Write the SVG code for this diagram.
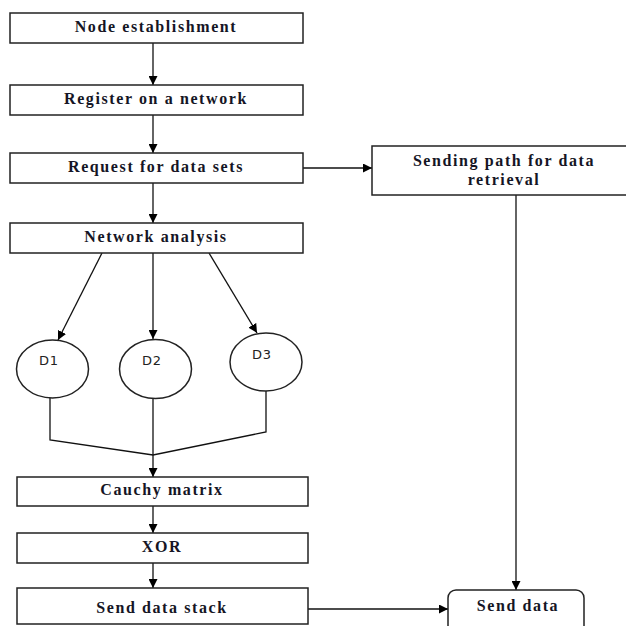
<svg xmlns="http://www.w3.org/2000/svg" width="626" height="626" viewBox="0 0 626 626">
<defs>
<marker id="ah" viewBox="0 0 10 10" refX="10" refY="5" markerWidth="9" markerHeight="9" markerUnits="userSpaceOnUse" orient="auto">
<path d="M0,0 L10,5 L0,10 z" fill="#000"/>
</marker>
<style>
.box{fill:#fff;stroke:#222;stroke-width:1.5}
.t{font-family:"Liberation Serif","Times New Roman",serif;font-weight:bold;font-size:16px;letter-spacing:1.6px;fill:#151525;text-anchor:middle}
.d{font-family:"DejaVu Sans",Verdana,sans-serif;font-size:13px;letter-spacing:0.8px;fill:#222;text-anchor:middle}
.c{fill:none;stroke:#111;stroke-width:1.3}
.a{marker-end:url(#ah)}
</style>
</defs>
<rect width="626" height="626" fill="#fff"/>
<g id="connectors">
<line class="c a" x1="153" y1="43" x2="153" y2="85"/>
<line class="c a" x1="153" y1="115" x2="153" y2="153"/>
<line class="c a" x1="153" y1="183" x2="153" y2="223"/>
<line class="c a" x1="303" y1="168" x2="372" y2="168"/>
<line class="c a" x1="102" y1="253" x2="58" y2="340"/>
<line class="c a" x1="153" y1="253" x2="153" y2="339"/>
<line class="c a" x1="209" y1="253" x2="257" y2="333"/>
<polyline class="c" points="50,398 50,440 153,455 266,432 266,391"/>
<line class="c a" x1="153" y1="398" x2="153" y2="477"/>
<line class="c a" x1="153" y1="506" x2="153" y2="533"/>
<line class="c a" x1="153" y1="563" x2="153" y2="588"/>
<line class="c a" x1="516" y1="195" x2="516" y2="590"/>
<line class="c a" x1="308" y1="609" x2="448" y2="609"/>
</g>
<g id="node-establishment">
<rect class="box" x="10" y="13" width="293" height="30"/>
<text class="t" x="156" y="32">Node establishment</text>
</g>
<g id="register">
<rect class="box" x="10" y="85" width="293" height="30"/>
<text class="t" x="156" y="104">Register on a network</text>
</g>
<g id="request">
<rect class="box" x="10" y="153" width="293" height="30"/>
<text class="t" x="156" y="172">Request for data sets</text>
</g>
<g id="network-analysis">
<rect class="box" x="10" y="223" width="293" height="30"/>
<text class="t" x="156" y="242">Network analysis</text>
</g>
<g id="sending-path">
<rect class="box" x="372" y="146" width="270" height="49"/>
<text class="t" x="504" y="166">Sending path for data</text>
<text class="t" x="504" y="185">retrieval</text>
</g>
<g id="d1">
<ellipse class="box" cx="52.5" cy="369" rx="36" ry="29"/>
<text class="d" x="49" y="365">D1</text>
</g>
<g id="d2">
<ellipse class="box" cx="155.5" cy="369" rx="36" ry="29.5"/>
<text class="d" x="152" y="365">D2</text>
</g>
<g id="d3">
<ellipse class="box" cx="266" cy="362" rx="36" ry="29"/>
<text class="d" x="262" y="359">D3</text>
</g>
<g id="cauchy">
<rect class="box" x="17" y="477" width="291" height="29"/>
<text class="t" x="162" y="495">Cauchy matrix</text>
</g>
<g id="xor">
<rect class="box" x="17" y="533" width="291" height="30"/>
<text class="t" x="162" y="552">XOR</text>
</g>
<g id="send-data-stack">
<rect class="box" x="17" y="588" width="291" height="36"/>
<text class="t" x="162" y="613">Send data stack</text>
</g>
<g id="send-data">
<rect class="box" x="448" y="590" width="136" height="50" rx="8" ry="8"/>
<text class="t" x="518" y="611">Send data</text>
</g>
</svg>
